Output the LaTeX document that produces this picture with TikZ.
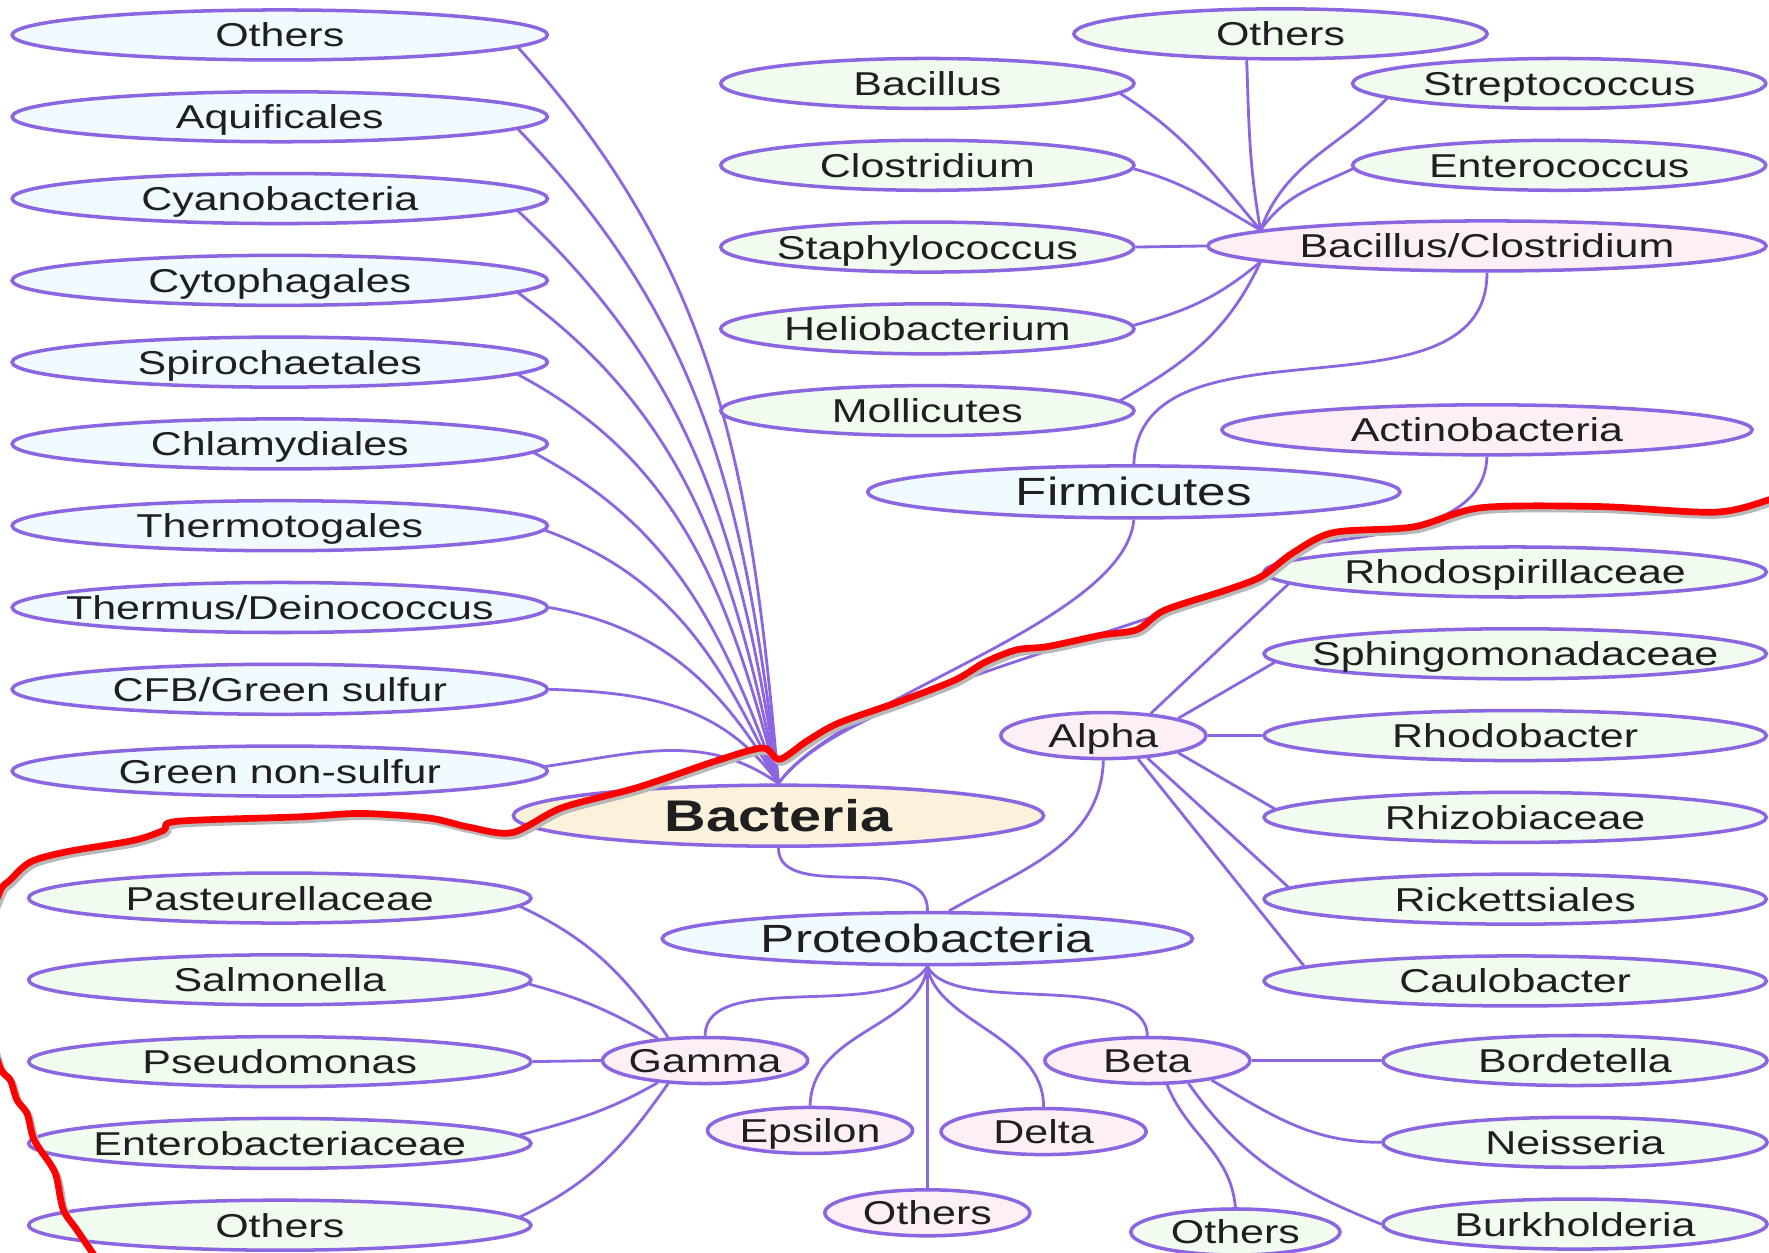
\documentclass[tikz,border=0pt]{standalone}
\usepackage{fontspec}
\setmainfont{Liberation Sans}[FakeStretch=1.3]
\usepackage{xcolor}
\usetikzlibrary{shapes.geometric,positioning,backgrounds}

\definecolor{linkpurple}{RGB}{140,102,224}
\definecolor{cyanfill}{RGB}{241,250,255}
\definecolor{greenfill}{RGB}{242,251,239}
\definecolor{pinkfill}{RGB}{252,240,246}
\definecolor{rootfill}{RGB}{252,242,220}

\begin{document}
\begin{tikzpicture}[
    x=0.011282cm, y=-0.011282cm,
    node distance=0.2823cm and 0.6cm,
    taxon/.style={ellipse, draw=linkpurple, line width=1pt, inner xsep=-1cm, inner ysep=-1pt, text=black!88, font=\fontsize{9.4}{11}\selectfont, text height=6.8pt, text depth=0pt, minimum height=0.5cm},
    phylum/.style={taxon, fill=cyanfill, minimum width=5.35cm},
    bigphylum/.style={taxon, fill=cyanfill, minimum width=5.32cm, minimum height=0.52cm, font=\fontsize{11.2}{13}\selectfont, text height=8pt, text depth=0pt},
    root/.style={taxon, fill=rootfill, minimum width=5.30cm, minimum height=0.61cm, font=\fontsize{12.6}{15}\selectfont\bfseries, text height=9pt, text depth=0pt},
    group/.style={taxon, fill=pinkfill},
    class/.style={group, minimum width=2.05cm, minimum height=0.46cm},
    genus/.style={taxon, fill=greenfill},
    link/.style={draw=linkpurple, line width=0.8pt},
    redmark/.style={draw=red, line width=1.9pt, line cap=round, line join=round, preaction={draw=black!28, line width=1.9pt, transform canvas={shift={(0.7pt,-0.9pt)}}}}
]
\useasboundingbox (0,0) rectangle (1568,1110);

% phyla on the left
\node (othA) [phylum] at (248,31) {Others};
\node (aquif) [phylum, below=of othA] {Aquificales};
\node (cyano) [phylum, below=of aquif] {Cyanobacteria};
\node (cytoph) [phylum, below=of cyano] {Cytophagales};
\node (spiro) [phylum, below=of cytoph] {Spirochaetales};
\node (chlam) [phylum, below=of spiro] {Chlamydiales};
\node (thermot) [phylum, below=of chlam] {Thermotogales};
\node (thermus) [phylum, below=of thermot] {Thermus/Deinococcus};
\node (cfb) [phylum, below=of thermus] {CFB/Green sulfur};
\node (gnonsulf) [phylum, below=of cfb] {Green non-sulfur};

\node (bact) [root] at (690,723) {Bacteria};

% Firmicutes branch
\node (firm) [bigphylum] at (1005,436) {Firmicutes};
\node (bacclos) [group, minimum width=5.58cm] at (1318,218) {Bacillus/Clostridium};
\node (othB) [genus, minimum width=4.13cm] at (1135,30) {Others};
\node (bacil) [genus, minimum width=4.13cm] at (822,74) {Bacillus};
\node (clost) [genus, minimum width=4.13cm, below=of bacil] {Clostridium};
\node (staph) [genus, minimum width=4.13cm, below=of clost] {Staphylococcus};
\node (helio) [genus, minimum width=4.13cm, below=of staph] {Heliobacterium};
\node (molli) [genus, minimum width=4.13cm, below=of helio] {Mollicutes};
\node (strep) [genus, minimum width=4.13cm] at (1382,74) {Streptococcus};
\node (entero) [genus, minimum width=4.13cm, below=of strep] {Enterococcus};
\node (actino) [group, minimum width=5.30cm] at (1318,381) {Actinobacteria};

% Proteobacteria branch
\node (proteo) [bigphylum, minimum width=5.30cm] at (822,832) {Proteobacteria};
\node (alpha) [class] at (978,652) {Alpha};
\node (rhodosp) [genus, minimum width=5.02cm] at (1343,507) {Rhodospirillaceae};
\node (sphingo) [genus, minimum width=5.02cm, below=of rhodosp] {Sphingomonadaceae};
\node (rhodob) [genus, minimum width=5.02cm, below=of sphingo] {Rhodobacter};
\node (rhizo) [genus, minimum width=5.02cm, below=of rhodob] {Rhizobiaceae};
\node (ricket) [genus, minimum width=5.02cm, below=of rhizo] {Rickettsiales};
\node (caulo) [genus, minimum width=5.02cm, below=of ricket] {Caulobacter};
\node (gamma) [class] at (625,940) {Gamma};
\node (epsilon) [class] at (718,1002) {Epsilon};
\node (othP) [class] at (822,1075) {Others};
\node (delta) [class] at (925,1003) {Delta};
\node (beta) [class] at (1017,940) {Beta};
\node (bordet) [genus, minimum width=3.84cm] at (1396,940) {Bordetella};
\node (neiss) [genus, minimum width=3.84cm, below=of bordet] {Neisseria};
\node (burkh) [genus, minimum width=3.84cm, below=of neiss] {Burkholderia};
\node (othBeta) [genus, minimum width=2.09cm, minimum height=0.46cm] at (1095,1092) {Others};
\node (pasteur) [genus, minimum width=5.02cm] at (248,796) {Pasteurellaceae};
\node (salmo) [genus, minimum width=5.02cm, below=of pasteur] {Salmonella};
\node (pseudo) [genus, minimum width=5.02cm, below=of salmo] {Pseudomonas};
\node (entbac) [genus, minimum width=5.02cm, below=of pseudo] {Enterobacteriaceae};
\node (othG) [genus, minimum width=5.02cm, below=of entbac] {Others};

\begin{scope}[on background layer]
\draw[link] (othA.-3.8) to[out=-48, in=95] (bact.north);
\draw[link] (aquif.-3.8) to[out=-46, in=97] (bact.north);
\draw[link] (cyano.-3.6) to[out=-43, in=99] (bact.north);
\draw[link] (cytoph.-3.4) to[out=-36, in=102] (bact.north);
\draw[link] (spiro.-3) to[out=-28, in=105] (bact.north);
\draw[link] (chlam.-2.5) to[out=-28, in=110] (bact.north);
\draw[link] (thermot.-1.7) to[out=-20, in=115] (bact.north);
\draw[link] (thermus.-0.5) to[out=-10, in=120] (bact.north);
\draw[link] (cfb.east) to[out=-2, in=125] (bact.north);
\draw[link] (gnonsulf.1) to[out=8, in=145] (bact.north);

\draw[link] (bacil.-3.5) to[out=-32, in=130] (bacclos.176);
\draw[link] (othB.-142) to[out=-88, in=100] (bacclos.176);
\draw[link] (strep.185) to[out=-135, in=70] (bacclos.176);
\draw[link] (clost.-1.6) to[out=-15, in=150] (bacclos.176);
\draw[link] (entero.181.6) to[out=-155, in=55] (bacclos.176);
\draw[link] (staph.east) -- (bacclos.west);
\draw[link] (helio.1.6) to[out=15, in=-140] (bacclos.184);
\draw[link] (molli.3.5) to[out=30, in=-115] (bacclos.184);

\draw[link] (firm.north) to[out=88, in=-90] (bacclos.south);
\draw[link] (firm.south) to[out=-95, in=55, looseness=0.6] (bact.north);
\draw[link] (actino.south) .. controls +(-2,55) and +(90,-10) .. (1160,482) .. controls +(-60,65) and +(70,-95) .. (bact.north);

\draw[link] (bact.south) .. controls +(0,50) and +(2,-55) .. (proteo.north);
\draw[link] (alpha.south) to[out=-92, in=30] (proteo.52);
\draw[link] (alpha.25) -- (rhodosp.183);
\draw[link] (alpha.13.5) -- (sphingo.182);
\draw[link] (alpha.east) -- (rhodob.west);
\draw[link] (alpha.-13.5) -- (rhizo.178);
\draw[link] (alpha.-27.7) -- (ricket.177);
\draw[link] (alpha.-34) -- (caulo.176.6);

\draw[link] (proteo.south) .. controls +(-32,50) and +(0,-60) .. (gamma.north);
\draw[link] (proteo.south) .. controls +(-7,55) and +(2,-67) .. (epsilon.north);
\draw[link] (proteo.south) -- (othP.north);
\draw[link] (proteo.south) .. controls +(8,50) and +(0,-63) .. (delta.north);
\draw[link] (proteo.south) .. controls +(23,45) and +(-2,-60) .. (beta.north);

\draw[link] (pasteur.-2.7) to[out=-25, in=125] (gamma.148);
\draw[link] (salmo.-1.5) to[out=-15, in=150] (gamma.155);
\draw[link] (pseudo.east) -- (gamma.west);
\draw[link] (entbac.2) to[out=15, in=-150] (gamma.-155);
\draw[link] (othG.2.6) to[out=25, in=-125] (gamma.-148);

\draw[link] (beta.east) -- (bordet.west);
\draw[link] (beta.-17) to[out=-30, in=180] (neiss.west);
\draw[link] (beta.-29) to[out=-55, in=158] (burkh.west);
\draw[link] (beta.-51) to[out=-68, in=95] (othBeta.north);
\end{scope}

% hand-drawn red mark
\draw[redmark] plot[smooth, tension=0.5] coordinates {(83,1112) (68,1090) (56,1072) (50,1043) (44,1031) (30,1010) (24,987) (15,975) (9,957) (0,946) (-12,900) (-12,830) (0,790) (9,780) (27,764) (59,755) (118,745) (145,736) (157,728) (266,724) (320,721) (380,725) (415,733) (454,738) (498,716) (565,698) (636,674) (676,663) (691,673) (715,657) (743,641) (794,623) (846,603) (873,587) (901,576) (929,573) (976,563) (1008,558) (1032,541) (1087,523) (1118,511) (1146,490) (1182,472) (1253,467) (1313,450) (1418,449) (1520,454) (1568,443) (1580,437)};
\end{tikzpicture}
\end{document}
